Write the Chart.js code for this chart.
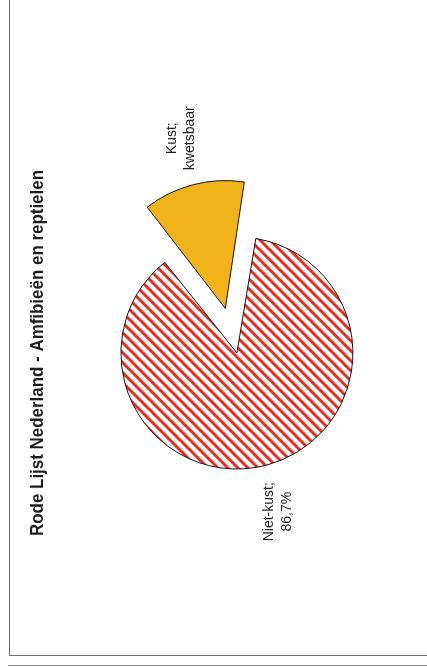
<!DOCTYPE html>
<html>
<head>
<meta charset="utf-8">
<script src="https://cdn.jsdelivr.net/npm/chart.js@4"></script>
<style>
  html, body { margin: 0; padding: 0; background: #fff; }
  #page { position: relative; width: 427px; height: 668px; overflow: hidden; }
  #frame { position: absolute; left: 9px; top: -2px; width: 430px; height: 657px; border-left: 1px solid #6f6f6f; border-bottom: 1px solid #6f6f6f; }
  #rule { position: absolute; left: 8px; right: 0; top: 665px; border-top: 1px solid #8a8a8a; }
  #wrap { position: absolute; left: 0; top: 0; width: 427px; height: 668px; }
</style>
</head>
<body>
<div id="page">
  <div id="frame"></div>
  <div id="rule"></div>
  <div id="wrap"><canvas id="chart"></canvas></div>
</div>
<script>
const titleText = "Rode Lijst Nederland - Amfibieën en reptielen";
const categories = ["Kust", "Niet-kust"];
const shares = [13.3, 86.7];
const sliceLabels = [["Kust;", "kwetsbaar"], ["Niet-kust;", "86,7%"]];
const explode = [184, 0];

const labelGap = 48;
const lineH = 18;

// red diagonal hatching for the big slice
function stripes() {
  const size = 10;
  const c = document.createElement("canvas");
  c.width = size;
  c.height = size;
  const g = c.getContext("2d");
  g.fillStyle = "#fff";
  g.fillRect(0, 0, size, size);
  g.strokeStyle = "#ee2a1c";
  g.lineWidth = 3;
  g.beginPath();
  g.moveTo(-2, -2); g.lineTo(size + 2, size + 2);
  g.moveTo(-2, size - 2); g.lineTo(2, size + 2);
  g.moveTo(size - 2, -2); g.lineTo(size + 2, 2);
  g.stroke();
  return g.createPattern(c, "repeat");
}

// rotated labels outside each slice, along its middle angle
const sliceText = {
  id: "sliceText",
  afterDatasetsDraw(chart) {
    const ctx = chart.ctx;
    const arcs = chart.getDatasetMeta(0).data;
    ctx.save();
    ctx.fillStyle = "#1e1e1e";
    ctx.font = "14px 'Liberation Sans', Arial, sans-serif";
    ctx.textAlign = "center";
    ctx.textBaseline = "middle";
    arcs.forEach((arc, i) => {
      const p = arc.getProps(["x", "y", "startAngle", "endAngle", "outerRadius", "circumference"], true);
      const mid = (p.startAngle + p.endAngle) / 2;
      const fix = 1 - Math.sin(Math.min(Math.PI, p.circumference));
      const shift = explode[i] / 4 * (1 + fix);
      const d = p.outerRadius + shift + labelGap;
      ctx.save();
      ctx.translate(p.x + Math.cos(mid) * d, p.y + Math.sin(mid) * d);
      ctx.rotate(-Math.PI / 2);
      const lines = sliceLabels[i];
      lines.forEach((t, k) => ctx.fillText(t, 0, (k - (lines.length - 1) / 2) * lineH));
      ctx.restore();
    });
    ctx.restore();
  }
};

new Chart(document.getElementById("chart"), {
  type: "pie",
  data: {
    labels: categories,
    datasets: [{
      data: shares,
      backgroundColor: ["#f2b31a", stripes()],
      borderColor: "#151515",
      borderWidth: 1,
      offset: explode,
      hoverOffset: 0
    }]
  },
  options: {
    responsive: true,
    maintainAspectRatio: false,
    animation: false,
    events: [],
    rotation: -38.5,
    radius: 116,
    layout: { padding: { top: 170, bottom: 132, left: 0, right: 2 } },
    plugins: {
      legend: { display: false },
      tooltip: { enabled: false },
      title: {
        display: true,
        text: titleText,
        position: "left",
        align: "start",
        color: "#1e1e1e",
        font: { family: "'Liberation Sans', Arial, sans-serif", size: 19, weight: "bold" },
        padding: { top: 26, bottom: 0 }
      }
    }
  },
  plugins: [sliceText]
});
</script>
</body>
</html>
